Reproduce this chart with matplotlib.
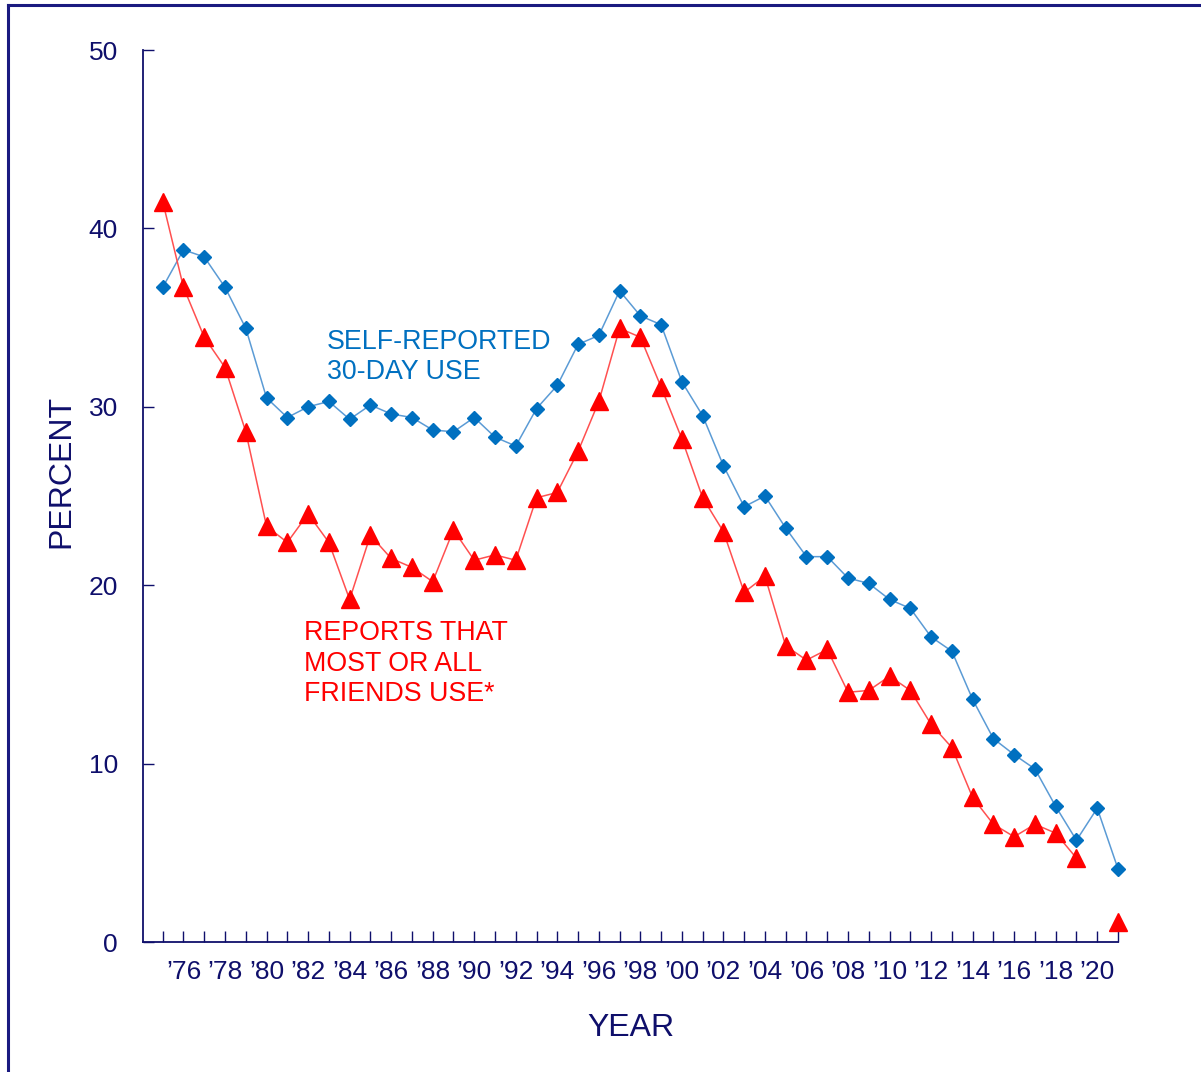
import matplotlib
matplotlib.use("Agg")
import matplotlib.pyplot as plt
import numpy as np
from matplotlib.lines import Line2D

years = list(range(1975, 2022))
self_reported = [36.7, 38.8, 38.4, 36.7, 34.4, 30.5, 29.4, 30.0, 30.3, 29.3,
                 30.1, 29.6, 29.4, 28.7, 28.6, 29.4, 28.3, 27.8, 29.9, 31.2,
                 33.5, 34.0, 36.5, 35.1, 34.6, 31.4, 29.5, 26.7, 24.4, 25.0,
                 23.2, 21.6, 21.6, 20.4, 20.1, 19.2, 18.7, 17.1, 16.3, 13.6,
                 11.4, 10.5, 9.7, 7.6, 5.7, 7.5, 4.1]
friends_use = [41.5, 36.7, 33.9, 32.2, 28.6, 23.3, 22.4, 24.0, 22.4, 19.2,
               22.8, 21.5, 21.0, 20.2, 23.1, 21.4, 21.7, 21.4, 24.9, 25.2,
               27.5, 30.3, 34.4, 33.9, 31.1, 28.2, 24.9, 23.0, 19.6, 20.5,
               16.6, 15.8, 16.4, 14.0, 14.1, 14.9, 14.1, 12.2, 10.9, 8.1,
               6.6, 5.9, 6.6, 6.1, 4.7, np.nan, 1.1]
tick_years = list(range(1976, 2021, 2))
tick_labels = ["\u2019%02d" % (y % 100) for y in tick_years]
y_ticks = [0, 10, 20, 30, 40, 50]

plt.rcParams['font.family'] = ['Liberation Sans', 'DejaVu Sans']
navy = '#0f0f6b'

fig = plt.figure(figsize=(12.01, 10.72), dpi=100)
ax = fig.add_axes([143/1201, 1-942/1072, (1118-143)/1201, (942-50)/1072])

ax.plot(years, self_reported, color='#5b9bd5', lw=1.1, marker='D', ms=6.8,
        mfc='#0070c0', mec='#0070c0', zorder=3, clip_on=False)
ax.plot(years, friends_use, color='#ff5050', lw=1.1, marker='^', ms=12.5,
        mfc='#ff0000', mec='#ff0000', zorder=3, clip_on=False)

ax.set_xlim(1974.05, 2021)
ax.set_ylim(0, 50)
ax.set_xticks(years, minor=True)
ax.set_xticks(tick_years)
ax.set_xticklabels(tick_labels)
ax.set_yticks(y_ticks)
ax.tick_params(axis='both', which='both', direction='in', colors=navy,
               labelsize=19, length=8, width=1)
ax.tick_params(axis='x', which='both', pad=13)
ax.tick_params(axis='y', pad=18)
for lbl in ax.get_xticklabels() + ax.get_yticklabels():
    lbl.set_color(navy)
for s in ['top', 'right']:
    ax.spines[s].set_visible(False)
for s in ['left', 'bottom']:
    ax.spines[s].set_color(navy)
    ax.spines[s].set_linewidth(1.3)

ax.set_xlabel('YEAR', fontsize=23, color=navy, labelpad=21)
ax.set_ylabel('PERCENT', fontsize=23, color=navy, labelpad=9)
ax.yaxis.set_label_coords(-0.068, 0.528)

ax.text(1982.9, 32.8, 'SELF-REPORTED\n30-DAY USE', color='#0070c0',
        fontsize=19.3, ha='left', va='center', linespacing=1.23)
ax.text(1981.8, 15.6, 'REPORTS THAT\nMOST OR ALL\nFRIENDS USE*', color='#ff0000',
        fontsize=19.3, ha='left', va='center', linespacing=1.23)

# outer frame (left and top edges visible)
fig.add_artist(Line2D([8/1201, 8/1201], [0, 1-5/1072], transform=fig.transFigure,
                      color='#1a1a80', lw=2.2))
fig.add_artist(Line2D([8/1201, 1.0], [1-5/1072, 1-5/1072], transform=fig.transFigure,
                      color='#1a1a80', lw=2.2))

fig.savefig('out.png', dpi=100)
